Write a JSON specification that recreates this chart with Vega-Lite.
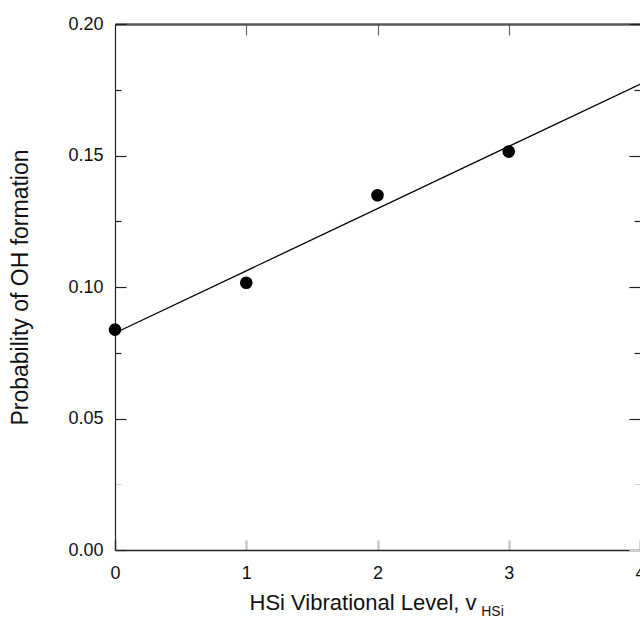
{
  "$schema": "https://vega.github.io/schema/vega-lite/v6.json",
  "width": 525,
  "height": 526,
  "autosize": {"type": "none"},
  "padding": {"left": 115, "top": 24, "right": 0, "bottom": 69},
  "background": "white",
  "config": {
    "view": {"stroke": null},
    "font": "Liberation Sans",
    "axis": {"grid": false, "labelColor": "#111", "titleColor": "#111", "titleFontWeight": "normal"}
  },
  "datasets": {
    "measured": [
      {"level": 0, "probability": 0.0838},
      {"level": 1, "probability": 0.1016},
      {"level": 2, "probability": 0.1349},
      {"level": 3, "probability": 0.1515}
    ],
    "fit": [
      {"level": 0, "probability": 0.0825},
      {"level": 4, "probability": 0.1771}
    ],
    "subscript": [
      {"label": "HSi"}
    ]
  },
  "layer": [
    {
      "data": {"name": "fit"},
      "mark": {"type": "line", "color": "black", "strokeWidth": 1.3},
      "encoding": {
        "x": {
          "field": "level", "type": "quantitative",
          "scale": {"domain": [0, 4], "nice": false, "zero": false},
          "axis": {
            "orient": "top", "values": [1, 2, 3], "labels": false, "title": null,
            "tickSize": -11, "tickColor": "#666", "tickWidth": 1.2,
            "domainColor": "#555", "domainWidth": 2.5
          }
        },
        "y": {
          "field": "probability", "type": "quantitative",
          "scale": {"domain": [0, 0.2], "nice": false},
          "axis": {
            "orient": "right", "title": null, "labels": false,
            "values": [0, 0.025, 0.05, 0.075, 0.1, 0.125, 0.15, 0.175, 0.2],
            "tickSize": {"condition": {"test": "abs(datum.value*20-round(datum.value*20))<0.01", "value": -11}, "value": -6},
            "tickColor": {"condition": {"test": "datum.value < 0.03", "value": "#d0d0d0"}, "value": "#222"},
            "tickWidth": 1.2,
            "domainColor": "#222"
          }
        }
      }
    },
    {
      "data": {"name": "measured"},
      "mark": {"type": "circle", "color": "black", "opacity": 1, "size": 160},
      "encoding": {
        "x": {
          "field": "level", "type": "quantitative",
          "axis": {
            "orient": "bottom", "values": [0, 1, 2, 3, 4],
            "title": "HSi Vibrational Level, v",
            "titleFontSize": 22, "titleAlign": "left", "titleBaseline": "alphabetic",
            "titleX": 134, "titleY": 59, "titleAngle": 0,
            "labelFontSize": 18, "labelFlush": false, "labelPadding": 24,
            "tickSize": -10, "tickColor": "#c8c8c8", "tickWidth": 2.5,
            "domainColor": "#222", "domainWidth": 1.5
          }
        },
        "y": {
          "field": "probability", "type": "quantitative",
          "axis": {
            "orient": "left",
            "title": "Probability of OH formation",
            "titleFontSize": 23, "titleAngle": 270, "titleAlign": "center", "titleBaseline": "alphabetic",
            "titleX": -88, "titleY": 263,
            "values": [0, 0.025, 0.05, 0.075, 0.1, 0.125, 0.15, 0.175, 0.2],
            "labelExpr": "abs(datum.value*20-round(datum.value*20))<0.01 ? format(datum.value, '.2f') : ''",
            "labelFontSize": 18, "labelPadding": 23,
            "tickSize": {"condition": {"test": "abs(datum.value*20-round(datum.value*20))<0.01", "value": -11}, "value": -6},
            "tickColor": {"condition": {"test": "datum.value > 0.01 && datum.value < 0.03", "value": "#d0d0d0"}, "value": "#222"},
            "tickWidth": 1.2,
            "domainColor": "#222", "domainWidth": 1.2
          }
        }
      }
    },
    {
      "data": {"name": "subscript"},
      "mark": {"type": "text", "align": "left", "baseline": "alphabetic", "fontSize": 14, "font": "Liberation Sans", "color": "#111"},
      "encoding": {
        "x": {"datum": 2.79, "type": "quantitative", "axis": null},
        "y": {"datum": -0.0252, "type": "quantitative", "axis": null},
        "text": {"field": "label"}
      }
    }
  ],
  "resolve": {"axis": {"x": "independent", "y": "independent"}}
}
